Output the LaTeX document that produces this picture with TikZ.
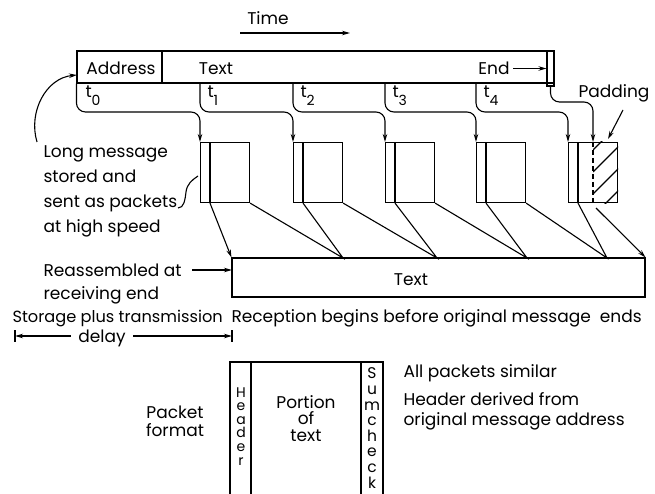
\documentclass[tikz,border=0pt]{standalone}
\usepackage{fontspec}
\setmainfont{Poppins}
\usetikzlibrary{arrows.meta}

\newcommand{\tsub}[1]{t\raisebox{-8pt}{\fontsize{14}{14}\selectfont #1}}

\begin{document}
\begin{tikzpicture}[x=1pt, y=-1pt, >={Stealth[length=8pt,width=4.5pt]}, line width=1.1pt,
  font=\fontsize{17}{20}\selectfont]
  \tikzstyle{cell}=[draw, inner sep=0pt, minimum height=32pt]
  \tikzstyle{pkt}=[draw, inner sep=0pt, minimum width=49pt, minimum height=60pt]
  \tikzstyle{lbl}=[inner sep=0pt, anchor=base west, align=left]
  \useasboundingbox (0,0) rectangle (655,494);

  % Top: the long message and its time axis
  \node[inner sep=0pt, anchor=base] (time) at (268,25) {Time};
  \coordinate (ts) at (240,33);
  \coordinate (te) at (350,33);
  \draw[->] (ts) -- (te);

  \node[cell, minimum width=85pt] (addr) at (119.5,67) {};
  \node[cell, minimum width=392pt] (msg) at (358,67) {};
  \node[draw, inner sep=0pt, minimum width=7pt, minimum height=35pt] (endm) at (550.5,68.5) {};
  \node[inner sep=0pt, anchor=base] at (121,75) {Address};
  \node[inner sep=0pt, anchor=base] at (216,75) {Text};
  \node[inner sep=0pt, anchor=base] (endt) at (494,75) {End};
  \draw[->] (endt.east |- endm.west) ++(3,0) coordinate (ea) -- (endm.west);

  % Middle: packets sent at high speed
  \foreach \n/\x in {1/200,2/293,3/385,4/476,5/568} {
    \node[pkt, anchor=north west] (pk\n) at (\x,142) {};
    \coordinate (h\n) at ([xshift=10pt]pk\n.south west);
    \draw (h\n) -- (h\n |- pk\n.north);
  }

  % padding in the last packet
  \coordinate (padtop) at (593,142);
  \coordinate (padbot) at (593,202);
  \draw[dashed, dash pattern=on 5pt off 3pt] (padtop) -- (padbot);
  \begin{scope}
    \clip (padtop) rectangle (pk5.south east);
    \foreach \y in {150,172,194,216} \draw (593,\y) -- ++(40,-40);
  \end{scope}

  % time marks and packet launches
  \coordinate (t0) at (addr.south west);
  \draw[->, rounded corners=9pt] (t0) |- ([yshift=30pt]pk1.north west) -- (pk1.north west);
  \node[lbl] at (85,98) {\tsub{0}};
  \foreach \i/\j in {1/2,2/3,3/4,4/5} {
    \coordinate (t\i) at (pk\i.north west |- msg.south);
    \draw[->, rounded corners=9pt] (t\i) |- ([yshift=30pt]pk\j.north west) -- (pk\j.north west);
    \node[lbl] at ([xshift=7pt]t\i |- 0,98) {\tsub{\i}};
  }
  \draw[->, rounded corners=9pt] (endm.south) |- ([yshift=40pt]padtop) -- (padtop);

  \node[lbl] (pad) at (578,98) {Padding};
  \coordinate (pa) at (623,110);
  \coordinate (pb) at (608,139);
  \draw[->] (pa) -- (pb);

  % Left: explanations (base = last line)
  \node[lbl, font=\fontsize{17}{25.3}\selectfont] (lm) at (43,233)
    {Long message\\stored and\\sent as packets\\at high speed};
  \coordinate (lmtop) at (37,142);
  \coordinate (addrin) at (77,75);
  \draw[->] (lmtop) .. controls (28,112) and (46,78) .. (addrin);
  \coordinate (sq) at (178,208);
  \coordinate (sqe) at (198,176);
  \draw (sq) .. controls (184,208) and (185,200) .. (186,192) .. controls (187,184) and (192,180) .. (sqe);

  % Bottom: reassembly
  \node[draw, inner sep=0pt, minimum width=413pt, minimum height=39pt] (recv) at (438.5,277.5) {};
  \node[inner sep=0pt, anchor=base] at (411,285) {Text};
  \coordinate (j1) at (343,258);
  \coordinate (j2) at (437,258);
  \coordinate (j3) at (527,258);
  \coordinate (j4) at (607,258);
  \draw[->] (h1) -- (recv.north west);
  \foreach \i/\j in {1/2,2/3,3/4,4/5} {
    \draw (pk\i.south east) -- (j\i) -- (h\j);
  }
  \coordinate (padout) at (596,208);
  \draw[->] (padout) -- (recv.north east);

  \node[lbl, font=\fontsize{17}{23}\selectfont] (ra) at (43,299) {Reassembled at\\receiving end};
  \coordinate (ra1) at (192,270);
  \coordinate (ra2) at (232,270);
  \draw[->] (ra1) -- (ra2);

  \node[lbl, font=\fontsize{16.2}{20}\selectfont] (st) at (12,322) {Storage plus transmission};
  \node[lbl] (rb) at (231,322) {Reception begins before original message\ \ ends};
  \node[inner sep=1pt, anchor=base] (dly) at (102,342) {delay};
  \coordinate (dl) at (15,336);
  \coordinate (dr) at (232,336);
  \draw ([yshift=6pt]dl) -- ([yshift=-6pt]dl);
  \draw ([yshift=6pt]dr) -- ([yshift=-6pt]dr);
  \draw[->] (dly.west |- dl) ++(-6,0) -- (dl);
  \draw[->] (dly.east |- dr) ++(6,0) -- (dr);

  % Packet format
  \draw (230,494) |- (383,362) -- (383,494);
  \draw (251,362) -- (251,494);
  \draw (361,362) -- (361,494);
  \node[lbl, align=center, anchor=base, font=\fontsize{14}{13.6}\selectfont] (hdr) at (241,465)
    {H\\e\\a\\d\\e\\r};
  \node[lbl, align=center, anchor=base, font=\fontsize{15.5}{15.6}\selectfont] (sum) at (372,488)
    {S\\u\\m\\c\\h\\e\\c\\k};
  \node[lbl, align=center, anchor=base, font=\fontsize{17}{16.5}\selectfont] (por) at (306,441)
    {Portion\\of\\text};
  \node[lbl, align=center, anchor=base, font=\fontsize{17}{18}\selectfont] (pf) at (175,436)
    {Packet\\format};

  \node[lbl] (aps) at (403,377) {All packets similar};
  \node[lbl, font=\fontsize{17}{20}\selectfont] (hd) at (403,425)
    {Header derived from\\original message address};
\end{tikzpicture}
\end{document}
